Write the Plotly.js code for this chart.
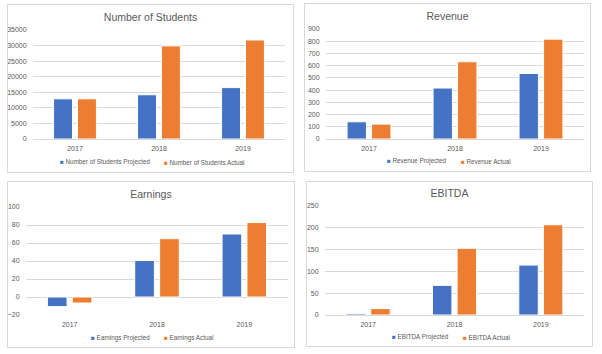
<!DOCTYPE html>
<html><head><meta charset="utf-8">
<script src="https://cdn.plot.ly/plotly-3.0.1.min.js"></script>
<style>
body{margin:0;background:#fff;width:602px;height:354px;position:relative;overflow:hidden;}
.panel{position:absolute;border:1px solid #D9D9D9;background:#fff;}
</style></head><body>
<div class="panel" id="p1" style="left:7px;top:4px;width:285px;height:167px;"></div>
<div class="panel" id="p2" style="left:304px;top:3px;width:285px;height:167px;"></div>
<div class="panel" id="p3" style="left:7px;top:181px;width:286px;height:165px;"></div>
<div class="panel" id="p4" style="left:306px;top:181px;width:285px;height:164px;"></div>
<script>
const years = ['2017','2018','2019'];
const titles = ['Number of Students', 'Revenue', 'Earnings', 'EBITDA'];
const seriesSuffix = ['Projected', 'Actual'];
const studentsProjected = [12900, 14200, 16500];
const studentsActual = [12900, 29900, 31800];
const revenueProjected = [141, 417, 536];
const revenueActual = [122, 632, 817];
const earningsProjected = [-10.7, 40.5, 70];
const earningsActual = [-6.7, 64.8, 82.7];
const ebitdaProjected = [3, 68, 114.5];
const ebitdaActual = [14.7, 153, 207];

const BLUE = '#4472C4', ORANGE = '#ED7D31', GRID = '#D9D9D9', TXT = '#595959';
const FONT = 'Liberation Sans, Arial, sans-serif';
const NB = '\u00A0';

function draw(id, title, proj, act, range, dtick, w, h, m, legY) {
  const names = seriesSuffix.map(s => title + ' ' + s);
  const bar = (y, nm, c) => ({type:'bar', x:years, y:y, name:nm,
    marker:{color:c, line:{color:'#ffffff', width:1}}, hoverinfo:'none'});
  const legFont = {size:6.3, color:TXT, family:FONT};
  const pw = w - m.l - m.r;
  const cx = (w/2 - m.l)/pw;
  const ys = -((legY) - (h - m.b));
  const ann = [
    {text:'<span style="color:' + BLUE + '">\u25A0</span>' + NB + names[0], xanchor:'right', xshift:6 - 5},
    {text:'<span style="color:' + ORANGE + '">\u25A0</span>' + NB + names[1], xanchor:'left', xshift:6 + 5}
  ].map(a => Object.assign({xref:'paper', yref:'paper', x:cx, y:0, yanchor:'middle', yshift:ys, showarrow:false, font:legFont}, a));
  Plotly.newPlot(id, [bar(proj, names[0], BLUE), bar(act, names[1], ORANGE)], {
    width:w, height:h, margin:m, paper_bgcolor:'rgba(0,0,0,0)', plot_bgcolor:'rgba(0,0,0,0)',
    font:{family:FONT, color:TXT, size:7},
    title:{text:title, font:{size:10.5, color:TXT, family:FONT}, x:0.5, xanchor:'center', y:1, yref:'paper', yanchor:'bottom', pad:{b:9}},
    barmode:'group', bargap:0.43, bargroupgap:0.21,
    xaxis:{type:'category', showgrid:false, zeroline:false, showline:false, ticks:'outside', ticklen:3, tickcolor:'rgba(0,0,0,0)',
      tickfont:{size:7, color:TXT}, fixedrange:true, automargin:false},
    yaxis:{range:range, dtick:dtick, tickformat:'d', showgrid:true, gridcolor:GRID, gridwidth:1, zeroline:true, zerolinecolor:GRID, zerolinewidth:1,
      ticks:'outside', ticklen:4, tickcolor:'rgba(0,0,0,0)', tickfont:{size:7, color:TXT}, fixedrange:true, automargin:false},
    showlegend:false,
    annotations:ann
  }, {staticPlot:true, displayModeBar:false});
}

draw('p1', titles[0], studentsProjected, studentsActual, [0, 35000], 5000, 285, 167, {l:25, r:8, t:25, b:33}, 157);
draw('p2', titles[1], revenueProjected, revenueActual, [0, 900], 100, 285, 167, {l:21, r:6, t:25, b:32}, 157);
draw('p3', titles[2], earningsProjected, earningsActual, [-20, 100], 20, 286, 165, {l:18, r:6, t:25, b:32}, 156);
draw('p4', titles[3], ebitdaProjected, ebitdaActual, [0, 250], 50, 285, 164, {l:18, r:8, t:24, b:31}, 155);
</script>
</body></html>
